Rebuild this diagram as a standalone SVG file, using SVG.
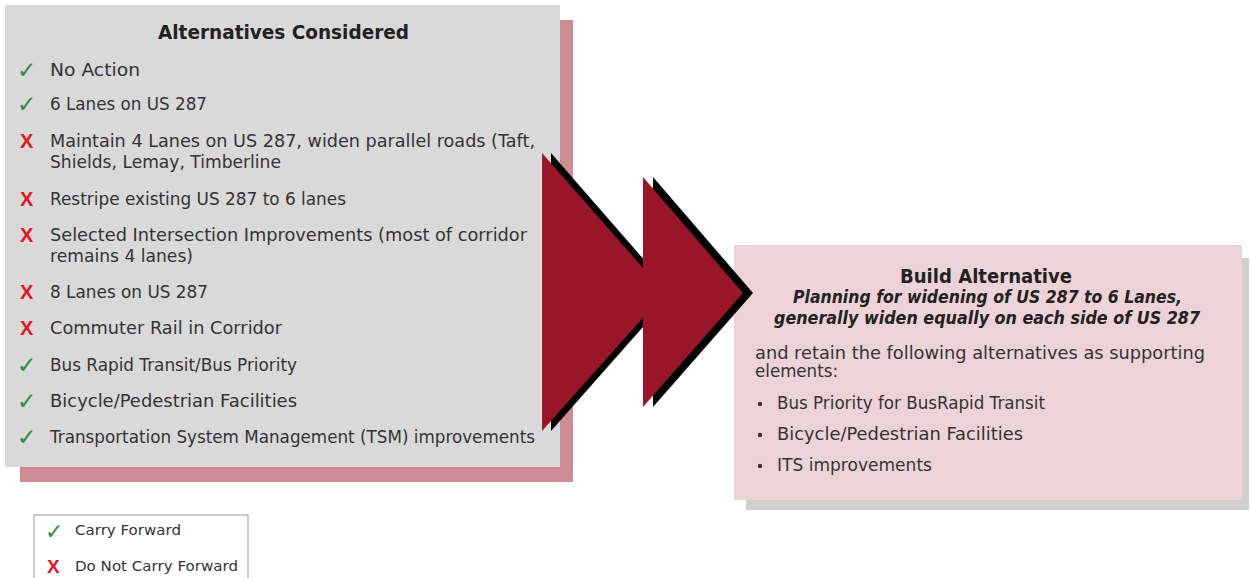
<svg xmlns="http://www.w3.org/2000/svg" width="1250" height="578" viewBox="0 0 1250 578">
<style>
.t{font-family:"DejaVu Sans","Liberation Sans",sans-serif;font-size:17px;fill:#333333}
.h{font-family:"DejaVu Sans","Liberation Sans",sans-serif;font-size:20px;font-weight:bold;fill:#222222}
.bi{font-family:"DejaVu Sans","Liberation Sans",sans-serif;font-size:17px;font-weight:bold;font-style:italic;fill:#222222}
.ck{font-family:"DejaVu Sans",sans-serif;font-size:23px;fill:#2e8b3e}
.x{font-family:"Liberation Sans",sans-serif;font-size:20px;font-weight:bold;fill:#e3161f}
.lg{font-family:"DejaVu Sans","Liberation Sans",sans-serif;font-size:14.5px;fill:#333333}
.red{fill:#9b1529}
</style>
<rect width="1250" height="578" fill="#ffffff"/>
<g id="alternatives">
<rect x="20" y="20" width="553" height="462" fill="#cf8b93"/>
<rect x="5" y="5" width="555" height="462" fill="#d9d9d9"/>
<text class="h" x="158" y="39" textLength="251" lengthAdjust="spacingAndGlyphs">Alternatives Considered</text>
<text class="ck" x="17" y="78">✓</text><text class="t" x="50" y="76" textLength="90" lengthAdjust="spacingAndGlyphs">No Action</text>
<text class="ck" x="17" y="112">✓</text><text class="t" x="50" y="110" textLength="157" lengthAdjust="spacingAndGlyphs">6 Lanes on US 287</text>
<text class="x" x="20" y="148">X</text><text class="t" x="50" y="147" textLength="485" lengthAdjust="spacingAndGlyphs">Maintain 4 Lanes on US 287, widen parallel roads (Taft,</text>
<text class="t" x="50" y="168" textLength="231" lengthAdjust="spacingAndGlyphs">Shields, Lemay, Timberline</text>
<text class="x" x="20" y="206">X</text><text class="t" x="50" y="205" textLength="296" lengthAdjust="spacingAndGlyphs">Restripe existing US 287 to 6 lanes</text>
<text class="x" x="20" y="242">X</text><text class="t" x="50" y="241" textLength="477" lengthAdjust="spacingAndGlyphs">Selected Intersection Improvements (most of corridor</text>
<text class="t" x="50" y="262" textLength="143" lengthAdjust="spacingAndGlyphs">remains 4 lanes)</text>
<text class="x" x="20" y="299">X</text><text class="t" x="50" y="298" textLength="158" lengthAdjust="spacingAndGlyphs">8 Lanes on US 287</text>
<text class="x" x="20" y="335">X</text><text class="t" x="50" y="334" textLength="232" lengthAdjust="spacingAndGlyphs">Commuter Rail in Corridor</text>
<text class="ck" x="17" y="373">✓</text><text class="t" x="50" y="371" textLength="247" lengthAdjust="spacingAndGlyphs">Bus Rapid Transit/Bus Priority</text>
<text class="ck" x="17" y="409">✓</text><text class="t" x="50" y="407" textLength="247" lengthAdjust="spacingAndGlyphs">Bicycle/Pedestrian Facilities</text>
<text class="ck" x="17" y="445">✓</text><text class="t" x="50" y="443" textLength="485" lengthAdjust="spacingAndGlyphs">Transportation System Management (TSM) improvements</text>
</g>
<g id="build">
<rect x="746" y="258" width="503" height="252" fill="#d0d0d0"/>
<rect x="734" y="245" width="508" height="255" fill="#edd3d7"/>
<text class="h" x="900" y="283" textLength="172" lengthAdjust="spacingAndGlyphs">Build Alternative</text>
<text class="bi" x="793" y="303" textLength="389" lengthAdjust="spacingAndGlyphs">Planning for widening of US 287 to 6 Lanes,</text>
<text class="bi" x="774" y="324" textLength="426" lengthAdjust="spacingAndGlyphs">generally widen equally on each side of US 287</text>
<text class="t" x="755" y="359" textLength="450" lengthAdjust="spacingAndGlyphs">and retain the following alternatives as supporting</text>
<text class="t" x="755" y="377" textLength="83" lengthAdjust="spacingAndGlyphs">elements:</text>
<circle cx="760" cy="404" r="2.2" fill="#333333"/>
<text class="t" x="777" y="409" textLength="268" lengthAdjust="spacingAndGlyphs">Bus Priority for BusRapid Transit</text>
<circle cx="760" cy="435" r="2.2" fill="#333333"/>
<text class="t" x="777" y="440" textLength="246" lengthAdjust="spacingAndGlyphs">Bicycle/Pedestrian Facilities</text>
<circle cx="760" cy="466" r="2.2" fill="#333333"/>
<text class="t" x="777" y="471" textLength="155" lengthAdjust="spacingAndGlyphs">ITS improvements</text>
</g>
<g id="arrows">
<polygon points="551,153 673,293 551,431" fill="#000000"/>
<polygon class="red" points="542,153 665,293 542,431"/>
<polygon points="653,177 753,293 653,407" fill="#000000"/>
<polygon class="red" points="643,177 743,293 643,407"/>
</g>
<g id="legend">
<rect x="34" y="515" width="214" height="70" fill="#ffffff" stroke="#9a9a9a" stroke-width="1"/>
<text class="ck" x="45" y="539" style="font-size:22px">✓</text>
<text class="lg" x="75" y="535" textLength="106" lengthAdjust="spacingAndGlyphs">Carry Forward</text>
<text class="x" x="47" y="573" style="font-size:19px">X</text>
<text class="lg" x="75" y="571" textLength="163" lengthAdjust="spacingAndGlyphs">Do Not Carry Forward</text>
</g>
</svg>
